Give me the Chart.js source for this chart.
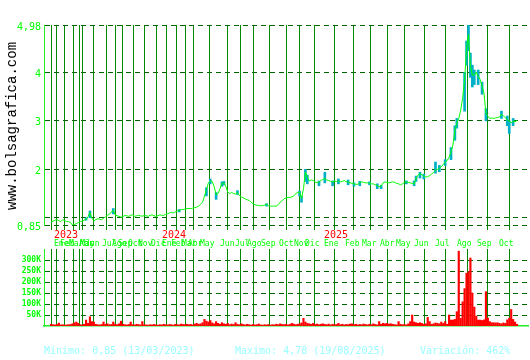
<!DOCTYPE html>
<html>
<head>
<meta charset="utf-8">
<script src="https://cdn.jsdelivr.net/npm/chart.js@4.4.0/dist/chart.umd.min.js"></script>
<style>
html,body{margin:0;padding:0;background:#fff;}
#wrap{position:relative;width:530px;height:360px;overflow:hidden;background:#fff;}
#priceChart{position:absolute;left:0;top:0;}
#volChart{position:absolute;left:0;top:240px;}
#brand{position:absolute;left:12px;top:126px;transform:translate(-50%,-50%) rotate(-90deg);font:14px 'Liberation Mono',monospace;color:#000;white-space:nowrap;}
.stat{position:absolute;top:345px;font:10px 'DejaVu Sans Mono',monospace;color:#99ffff;white-space:nowrap;line-height:12px;}
</style>
</head>
<body>
<div id="wrap">
  <canvas id="priceChart" width="530" height="250"></canvas>
  <canvas id="volChart" width="530" height="120"></canvas>
  <div id="brand">www.bolsagrafica.com</div>
  <div class="stat" style="left:44px">Mínimo: 0,85 (13/03/2023)</div>
  <div class="stat" style="left:235px">Maximo: 4,78 (19/08/2025)</div>
  <div class="stat" style="left:420px">Variación: 462%</div>
</div>
<script>
// --- DATA ---
// one value per session index (x axis is session based, not calendar based)
const closes = [
  0.91,0.93,0.95,0.96,0.94,0.92,0.96,0.94,0.92,0.92,
  0.90,0.85,0.86,0.88,0.90,0.92,0.93,0.95,0.96,1.02,
  1.11,0.99,0.94,0.96,0.98,0.97,0.96,0.99,1.02,1.05,
  1.07,1.12,1.15,1.06,1.04,1.03,1.01,1.02,1.05,1.04,
  1.03,1.05,1.06,1.03,1.04,1.05,1.04,1.03,1.05,1.04,
  1.03,1.05,1.06,1.04,1.03,1.04,1.06,1.05,1.05,1.07,
  1.08,1.10,1.11,1.10,1.12,1.14,1.15,1.17,1.17,1.18,
  1.19,1.19,1.19,1.20,1.21,1.22,1.24,1.28,1.32,1.45,
  1.58,1.72,1.76,1.75,1.64,1.48,1.50,1.60,1.71,1.72,
  1.65,1.53,1.50,1.52,1.50,1.49,1.52,1.46,1.43,1.41,
  1.39,1.37,1.36,1.32,1.29,1.27,1.26,1.25,1.25,1.25,
  1.26,1.28,1.25,1.24,1.24,1.24,1.24,1.27,1.32,1.35,
  1.39,1.41,1.42,1.42,1.43,1.45,1.50,1.52,1.53,1.40,
  1.60,1.94,1.84,1.76,1.78,1.77,1.74,1.72,1.74,1.77,
  1.79,1.81,1.78,1.77,1.75,1.74,1.76,1.75,1.76,1.74,
  1.75,1.77,1.74,1.74,1.72,1.71,1.70,1.69,1.69,1.72,
  1.74,1.73,1.72,1.72,1.71,1.70,1.70,1.68,1.67,1.64,
  1.65,1.72,1.74,1.73,1.72,1.73,1.74,1.73,1.71,1.70,
  1.68,1.70,1.73,1.74,1.73,1.72,1.71,1.70,1.81,1.88,
  1.91,1.89,1.86,1.84,1.85,1.87,1.90,1.94,1.98,2.00,
  2.02,2.05,2.10,2.15,2.18,2.25,2.36,2.50,2.80,2.95,
  3.05,3.22,3.48,3.84,4.50,4.78,4.12,3.95,3.94,4.01,
  3.92,3.86,3.72,3.57,3.15,3.10,3.05,3.06,3.05,3.06,
  3.07,3.08,3.14,3.10,3.07,3.02,2.99,2.96,3.00,2.98,
  3.01
];

// high/low ranges where they stick out of the close line
const rangeIdx  = [18,20,32,66,80,82,85,88,89,96,111,128,129,131,132,138,141,145,148,153,156,159,164,168,170,183,187,188,190,192,198,200,203,206,208,209,213,214,215,216,217,218,220,222,224,232,235,236,238];
const rangeLow  = [0.95,1.00,1.08,1.12,1.45,1.70,1.38,1.65,1.68,1.48,1.24,1.45,1.32,1.75,1.70,1.66,1.72,1.66,1.70,1.68,1.65,1.66,1.68,1.60,1.60,1.70,1.66,1.75,1.82,1.80,1.92,1.95,2.08,2.20,2.60,2.85,3.20,4.15,4.45,3.90,3.70,3.75,3.75,3.55,3.00,3.05,2.90,2.74,2.90];
const rangeHigh = [1.00,1.14,1.19,1.17,1.62,1.80,1.52,1.74,1.75,1.56,1.29,1.55,1.45,2.00,1.88,1.76,1.94,1.76,1.80,1.78,1.72,1.75,1.74,1.70,1.67,1.76,1.76,1.86,1.94,1.90,2.15,2.08,2.20,2.45,2.90,3.05,4.00,4.65,4.98,4.40,4.15,4.05,4.05,3.80,3.25,3.20,3.10,3.00,3.05];

// volume in thousands
const volumeK = [
  8,6,5,7,13,5,6,4,5,6,
  7,10,15,18,12,6,5,8,27,12,
  42,20,18,8,6,5,7,18,8,10,
  6,7,18,8,6,10,22,8,6,5,
  7,18,6,5,8,7,5,20,6,5,
  4,6,5,7,5,4,6,5,8,6,
  5,7,6,4,8,6,5,9,7,6,
  8,6,7,5,9,12,8,10,15,30,
  22,18,25,14,10,20,12,8,15,10,
  8,12,6,9,7,15,8,6,10,7,
  5,8,6,4,7,5,6,9,5,4,
  6,5,7,4,6,5,8,6,10,7,
  6,8,5,7,12,9,6,8,10,14,
  35,18,12,10,8,12,7,9,6,8,
  10,7,6,9,5,8,6,7,12,6,
  8,5,7,6,9,10,6,8,5,7,
  6,9,7,5,8,6,10,7,5,20,
  8,12,10,12,9,10,8,6,5,20,
  8,6,7,5,10,20,50,18,15,12,
  15,12,8,10,39,20,8,10,14,12,
  10,18,12,20,8,50,27,27,30,65,
  340,35,110,170,240,247,309,150,86,45,
  27,27,25,28,156,36,20,15,15,14,
  15,12,10,14,12,28,36,75,30,18,
  8
];

// month boundaries (session index) and their labels
const monthPos = [1.5,4.5,9,14.5,15,17.5,26,31.5,34.5,39.5,45,51.5,
                  57,62,67.5,70.5,76.5,87,94.5,101,108,117.5,125,131,
                  140.5,151.5,160,169.5,177.5,187,197.5,209,219.5,230.5];
const monthNames = ['Ene','Feb','Mar','Abr','May','Jun','Jul','Ago','Sep','Oct','Nov','Dic',
                    'Ene','Feb','Mar','Abr','May','Jun','Jul','Ago','Sep','Oct','Nov','Dic',
                    'Ene','Feb','Mar','Abr','May','Jun','Jul','Ago','Sep','Oct'];
const yearPos = [1.5,57,140.5];
const yearNames = ['2023','2024','2025'];

const priceTicks = [0.85,1,2,3,4,4.98];
const priceTickLabels = ['0,85','','2','3','4','4,98'];
const volTicks = [50,100,150,200,250,300];
const volTickLabels = ['50K','100K','150K','200K','250K','300K'];

const X_MAX = 242;
const MONO = "'DejaVu Sans Mono', monospace";
const VGRID = '#008a00';
const HGRID = '#006600';
const AXIS = '#22ee22';

// --- PRICE CHART ---
const dateLabels = {
  id:'dateLabels',
  afterDraw(chart){
    const {ctx, scales:{x}} = chart;
    ctx.save();
    ctx.textAlign = 'left';
    ctx.textBaseline = 'middle';
    ctx.font = '8px ' + MONO;
    ctx.fillStyle = '#00ff00';
    monthPos.forEach((p,i)=>{
      ctx.fillText(monthNames[i], Math.round(x.getPixelForValue(p)), 244);
    });
    ctx.font = '10px ' + MONO;
    ctx.fillStyle = '#ff0000';
    yearPos.forEach((p,i)=>{
      ctx.fillText(yearNames[i], Math.round(x.getPixelForValue(p)), 235.5);
    });
    ctx.restore();
  }
};

new Chart(document.getElementById('priceChart'), {
  data:{
    datasets:[
      {
        type:'line',
        data:closes.map((v,i)=>({x:i, y:v})),
        borderColor:'#00ff00',
        borderWidth:1,
        pointRadius:0,
        tension:0,
        order:0
      },
      {
        type:'bar',
        data:rangeIdx.map((p,k)=>({x:p, y:[rangeLow[k], rangeHigh[k]]})),
        backgroundColor:'#00b0c8',
        barThickness:2,
        order:1
      }
    ]
  },
  options:{
    responsive:false,
    animation:false,
    events:[],
    layout:{padding:{top:25, right:2, left:0, bottom:0}},
    plugins:{legend:{display:false}, tooltip:{enabled:false}},
    scales:{
      x:{
        type:'linear', min:0, max:X_MAX,
        afterBuildTicks:(s)=>{ s.ticks = monthPos.map(v=>({value:v})); },
        afterFit:(s)=>{ s.height = 25; },
        ticks:{display:false},
        grid:{color:VGRID, lineWidth:1, drawTicks:true, tickLength:5},
        border:{display:false}
      },
      y:{
        min:0.85, max:4.98,
        afterBuildTicks:(s)=>{ s.ticks = priceTicks.map(v=>({value:v})); },
        afterFit:(s)=>{ s.width = 44; },
        ticks:{
          color:'#00ff00', padding:3, labelOffset:2,
          font:{family:MONO, size:10},
          callback:(v,i)=>priceTickLabels[i]
        },
        grid:{color:HGRID, lineWidth:1, drawTicks:false},
        border:{display:true, color:AXIS, width:1, dash:[5,4]}
      }
    }
  },
  plugins:[dateLabels]
});

// --- VOLUME CHART ---
new Chart(document.getElementById('volChart'), {
  type:'bar',
  data:{
    datasets:[{
      data:volumeK.map((v,i)=>({x:i, y:v})),
      backgroundColor:'#ff0000',
      barThickness:1.5
    }]
  },
  options:{
    responsive:false,
    animation:false,
    events:[],
    layout:{padding:{top:9, right:2, left:0, bottom:0}},
    plugins:{legend:{display:false}, tooltip:{enabled:false}},
    scales:{
      x:{
        type:'linear', min:0, max:X_MAX,
        afterBuildTicks:(s)=>{ s.ticks = monthPos.map(v=>({value:v})); },
        afterFit:(s)=>{ s.height = 34; },
        ticks:{display:false},
        grid:{color:VGRID, lineWidth:1, drawTicks:false},
        border:{display:true, color:AXIS, width:1.5}
      },
      y:{
        min:0, max:350,
        afterBuildTicks:(s)=>{ s.ticks = volTicks.map(v=>({value:v})); },
        afterFit:(s)=>{ s.width = 44; },
        ticks:{
          color:'#00ff00', padding:3,
          font:{family:MONO, size:8, weight:'bold'},
          callback:(v,i)=>volTickLabels[i]
        },
        grid:{color:HGRID, lineWidth:1, drawTicks:false},
        border:{display:true, color:AXIS, width:1, dash:[5,4]}
      }
    }
  }
});
</script>
</body>
</html>
